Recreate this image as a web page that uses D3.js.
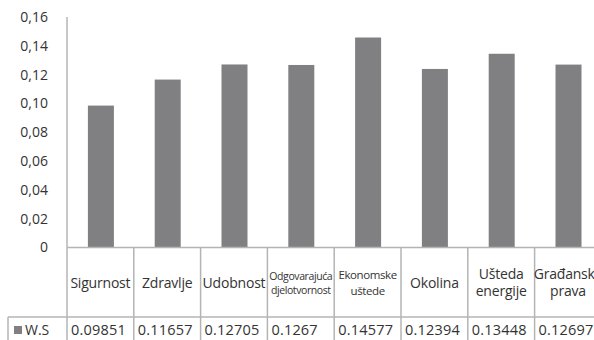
<!DOCTYPE html>
<html><head><meta charset="utf-8">
<script src="https://cdn.jsdelivr.net/npm/d3@7"></script>
<style>body{margin:0;background:#fff}svg{display:block}text{font-family:"Open Sans",sans-serif;fill:#333}</style>
</head><body><svg id="c" width="594" height="340"></svg>
<script>
const categories = [["Sigurnost"],["Zdravlje"],["Udobnost"],["Odgovarajuća","djelotvornost"],["Ekonomske","uštede"],["Okolina"],["Ušteda","energije"],["Građanska","prava"]];
const values = [0.09851,0.11657,0.12705,0.1267,0.14577,0.12394,0.13448,0.12697];
const valueLabels = ["0.09851","0.11657","0.12705","0.1267","0.14577","0.12394","0.13448","0.12697"];
const yTicks = [0,0.02,0.04,0.06,0.08,0.10,0.12,0.14,0.16];
const seriesName = "W.S";

(function(){
const svg = d3.select("#c");
const mLeft = 67, mTop = 17, mBottom = 247.5, colW = 66.8;
const x = d3.scaleBand().domain(d3.range(categories.length)).range([mLeft, mLeft + colW*categories.length]).paddingInner(0).paddingOuter(0);
const y = d3.scaleLinear().domain([0,0.16]).range([mBottom, mTop]);
const lineCol = "#b4b4b4", barCol = "#808083";

svg.append("g").selectAll("text").data(yTicks).join("text")
  .attr("x", 48).attr("y", d => y(d)).attr("dy","0.35em").attr("text-anchor","end")
  .style("font-size","14px").text(d => d===0 ? "0" : d3.format(".2f")(d).replace(".",","));
svg.append("line").attr("x1",mLeft).attr("x2",mLeft).attr("y1",y(0.16)).attr("y2",mBottom).attr("stroke",lineCol).attr("stroke-width",1.5);

const bw = 26;
svg.append("g").selectAll("rect").data(values).join("rect")
  .attr("x",(d,i)=> x(i)+x.bandwidth()/2 - bw/2 + 0.5).attr("width",bw)
  .attr("y",d=>y(d)).attr("height",d=>mBottom - y(d)).attr("fill",barCol);

const rowLine = 317, tableBottom = 345;
svg.append("line").attr("x1",mLeft).attr("x2",594).attr("y1",mBottom).attr("y2",mBottom).attr("stroke",lineCol).attr("stroke-width",1.5);
svg.append("line").attr("x1",8).attr("x2",594).attr("y1",rowLine).attr("y2",rowLine).attr("stroke",lineCol).attr("stroke-width",1.5);
svg.append("line").attr("x1",8).attr("x2",8).attr("y1",rowLine).attr("y2",tableBottom).attr("stroke",lineCol).attr("stroke-width",1.5);
svg.append("g").selectAll("line").data(d3.range(categories.length+1)).join("line")
  .attr("x1",i=>mLeft+i*colW).attr("x2",i=>mLeft+i*colW).attr("y1",mBottom).attr("y2",tableBottom)
  .attr("stroke",lineCol).attr("stroke-width",1.5);

const cg = svg.append("g");
categories.forEach((lines,i)=>{
  const cx = x(i)+x.bandwidth()/2;
  const small = i===3;
  const fs = small ? 10.5 : (i===4 ? 11.5 : 14);
  const lh = small ? 14 : (i===4 ? 16 : 17);
  const cy = 283;
  const t = cg.append("text").attr("text-anchor","middle").style("font-size",fs+"px")
    .style("letter-spacing", (small||i===4) ? "-0.4px" : "-0.2px");
  lines.forEach((l,j)=>{
    t.append("tspan").attr("x",cx).attr("y", cy + (j - (lines.length-1)/2)*lh).attr("dy","0.35em").text(l);
  });
});

svg.append("rect").attr("x",14).attr("y",326).attr("width",8).attr("height",8).attr("fill",barCol);
svg.append("text").attr("x",25).attr("y",330).attr("dy","0.35em").style("font-size","14px").text(seriesName);
svg.append("g").selectAll("text").data(valueLabels).join("text")
  .attr("x",(d,i)=>x(i)+4).attr("y",330).attr("dy","0.35em").style("font-size","14.5px").style("letter-spacing","0.2px").text(d=>d);
})();
</script></body></html>
